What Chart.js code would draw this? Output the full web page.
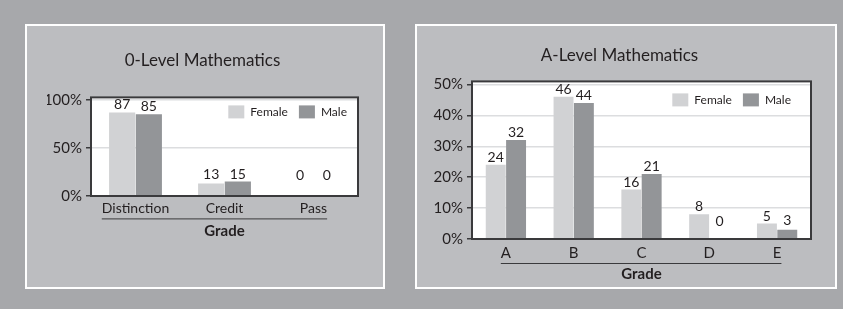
<!DOCTYPE html>
<html>
<head>
<meta charset="utf-8">
<script src="https://cdn.jsdelivr.net/npm/chart.js@4.4.1/dist/chart.umd.min.js"></script>
<style>
    html, body { margin: 0; padding: 0; background: #a7a8ab; width: 843px; height: 309px; overflow: hidden; }
    .panel { position: absolute; background: #bcbdc0; border: 2px solid #fff; }
    #left { left: 25px; top: 24px; width: 356px; height: 261px; }
    #right { left: 415px; top: 24px; width: 418px; height: 261px; }
    canvas { display: block; }
</style>
</head>
<body>
<div class="panel" id="left"><canvas id="oLevelChart" width="356" height="261"></canvas></div>
<div class="panel" id="right"><canvas id="aLevelChart" width="418" height="261"></canvas></div>
<script>
// O-Level data (percent of students)
const oLevelGrades = ['Distinction', 'Credit', 'Pass'];
const oLevelFemale = [87, 13, 0];
const oLevelMale = [85, 15, 0];
const oLevelTicks = [0, 50, 100];

// A-Level data (percent of students)
const aLevelGrades = ['A', 'B', 'C', 'D', 'E'];
const aLevelFemale = [24, 46, 16, 8, 5];
const aLevelMale = [32, 44, 21, 0, 3];
const aLevelTicks = [0, 10, 20, 30, 40, 50];

const FONT = 'Lato, "Open Sans", sans-serif';
const INK = '#231f20';
const FEMALE_COLOR = '#d1d2d4';
const MALE_COLOR = '#939598';

// White plot background
const plotBgPlugin = {
    id: 'plotBg',
    beforeDraw(chart) {
        const { ctx, chartArea: a } = chart;
        ctx.save();
        ctx.fillStyle = '#fff';
        ctx.fillRect(a.left, a.top, a.right - a.left, a.bottom - a.top);
        ctx.restore();
    }
};

// Dark frame round the plot area
const framePlugin = {
    id: 'frame',
    afterDatasetsDraw(chart) {
        const { ctx, chartArea: a } = chart;
        ctx.save();
        ctx.strokeStyle = '#3a3a3c';
        ctx.lineWidth = 2;
        ctx.strokeRect(a.left, a.top, a.right - a.left, a.bottom - a.top);
        ctx.restore();
    }
};

// Value above each bar (zeros sit a little above the baseline)
const valueLabelPlugin = {
    id: 'valueLabels',
    afterDatasetsDraw(chart, args, opts) {
        const { ctx } = chart;
        ctx.save();
        ctx.font = opts.size + 'px ' + FONT;
        ctx.fillStyle = INK;
        ctx.textAlign = 'center';
        ctx.textBaseline = 'alphabetic';
        chart.data.datasets.forEach((ds, i) => {
            chart.getDatasetMeta(i).data.forEach((bar, j) => {
                const y = Math.min(bar.y - 3, bar.base - opts.zeroLift);
                ctx.fillText(String(ds.data[j]), bar.x, y);
            });
        });
        ctx.restore();
    }
};

// Legend inside the plot, top right
const insideLegendPlugin = {
    id: 'insideLegend',
    afterDatasetsDraw(chart, args, opts) {
        const { ctx, chartArea: a } = chart;
        ctx.save();
        ctx.font = '12px ' + FONT;
        ctx.textBaseline = 'middle';
        ctx.textAlign = 'left';
        let x = a.right - opts.right;
        const top = a.top + opts.top;
        const items = chart.data.datasets.slice().reverse();
        items.forEach(ds => {
            const w = ctx.measureText(ds.label).width;
            x -= w;
            ctx.fillStyle = INK;
            ctx.fillText(ds.label, x, top + 7);
            x -= 6 + 16;
            ctx.fillStyle = ds.backgroundColor;
            ctx.fillRect(x, top, 16, 13);
            x -= 11;
        });
        ctx.restore();
    }
};

// Rule between the category labels and the axis title
const axisRulePlugin = {
    id: 'axisRule',
    afterDraw(chart, args, opts) {
        const { ctx } = chart;
        const x = chart.scales.x;
        const labels = chart.data.labels;
        ctx.save();
        ctx.font = opts.size + 'px ' + FONT;
        const first = x.getPixelForTick(0) - ctx.measureText(labels[0]).width / 2;
        const lastIdx = labels.length - 1;
        const last = x.getPixelForTick(lastIdx) + ctx.measureText(labels[lastIdx]).width / 2;
        const y = x.top + opts.pad + opts.size * 0.6 + 10;
        ctx.strokeStyle = '#3a3a3c';
        ctx.lineWidth = 1;
        ctx.beginPath();
        ctx.moveTo(first, y + 0.5);
        ctx.lineTo(last, y + 0.5);
        ctx.stroke();
        ctx.restore();
    }
};

function gradeChart(canvasId, cfg) {
    const ctx = document.getElementById(canvasId).getContext('2d');
    return new Chart(ctx, {
        type: 'bar',
        data: {
            labels: cfg.grades,
            datasets: [
                { label: 'Female', data: cfg.female, backgroundColor: FEMALE_COLOR },
                { label: 'Male', data: cfg.male, backgroundColor: MALE_COLOR }
            ]
        },
        options: {
            responsive: false,
            animation: false,
            categoryPercentage: 0.6,
            barPercentage: 0.98,
            layout: { padding: cfg.padding },
            scales: {
                x: {
                    afterFit: s => { s.height = 44; },
                    grid: { display: false, drawTicks: false },
                    border: { display: false },
                    ticks: { font: { family: FONT, size: cfg.xSize }, color: INK, padding: cfg.xPad, maxRotation: 0 },
                    title: {
                        display: true,
                        text: 'Grade',
                        color: INK,
                        font: { family: FONT, size: 15, weight: 'bold' },
                        padding: { top: 0, bottom: 0 }
                    }
                },
                y: {
                    min: 0,
                    max: cfg.yMax,
                    afterBuildTicks: s => { s.ticks = cfg.ticks.map(v => ({ value: v })); },
                    afterFit: s => { s.width = 44; },
                    border: { display: false },
                    grid: { color: '#dcdddf', tickColor: '#3a3a3c', tickLength: 5, lineWidth: 1.5 },
                    ticks: {
                        font: { family: FONT, size: 15 },
                        color: INK,
                        padding: 4,
                        callback: v => v + '%'
                    }
                }
            },
            plugins: {
                title: {
                    display: true,
                    text: cfg.title,
                    color: INK,
                    font: { family: FONT, size: 17, weight: 'normal' },
                    padding: cfg.titlePad
                },
                legend: { display: false },
                tooltip: { enabled: false },
                valueLabels: { size: 14, zeroLift: cfg.zeroLift },
                insideLegend: cfg.legend,
                axisRule: { size: cfg.xSize, pad: cfg.xPad }
            }
        },
        plugins: [plotBgPlugin, framePlugin, valueLabelPlugin, insideLegendPlugin, axisRulePlugin]
    });
}

gradeChart('oLevelChart', {
    title: '0-Level Mathematics',
    grades: oLevelGrades,
    female: oLevelFemale,
    male: oLevelMale,
    ticks: oLevelTicks,
    yMax: 102.6,
    padding: { left: 20, right: 25, top: 0, bottom: 47 },
    titlePad: { top: 24, bottom: 27 },
    legend: { right: 11, top: 8 },
    xSize: 14,
    xPad: 4,
    zeroLift: 16
});

gradeChart('aLevelChart', {
    title: 'A-Level Mathematics',
    grades: aLevelGrades,
    female: aLevelFemale,
    male: aLevelMale,
    ticks: aLevelTicks,
    yMax: 51,
    padding: { left: 11, right: 24, top: 0, bottom: 4 },
    titlePad: { top: 19, bottom: 16 },
    legend: { right: 20, top: 12 },
    xSize: 15,
    xPad: 5,
    zeroLift: 13
});
</script>
</body>
</html>
